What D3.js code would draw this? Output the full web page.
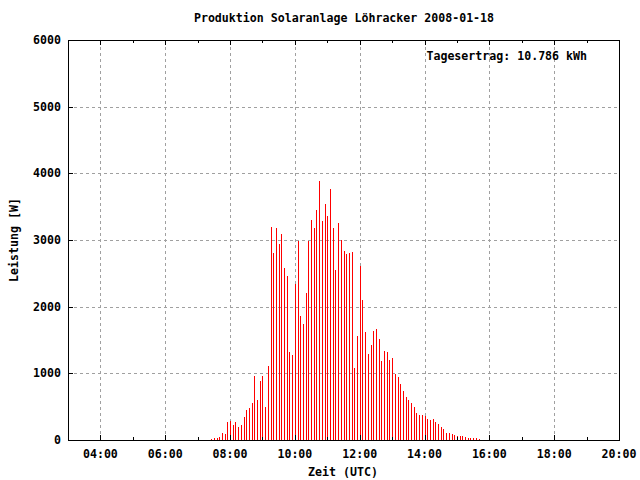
<!DOCTYPE html>
<html>
<head>
<meta charset="utf-8">
<script src="https://cdn.jsdelivr.net/npm/d3@7/dist/d3.min.js"></script>
<style>
  html, body { margin: 0; padding: 0; background: #fff; }
  svg { display: block; }
  text { font-family: "DejaVu Sans Mono", "Liberation Mono", monospace; font-weight: bold; font-size: 11.6px; fill: #000; }
</style>
</head>
<body>
<svg id="chart" width="640" height="480"></svg>
<script>
// ---- data ----
const title = "Produktion Solaranlage Löhracker 2008-01-18";
const xLabel = "Zeit (UTC)";
const yLabel = "Leistung [W]";
const noteLabel = "Tagesertrag: 10.786 kWh";

const times = [
  "07:25","07:30","07:35","07:40","07:45","07:50","07:55","08:00","08:05","08:10",
  "08:15","08:20","08:25","08:30","08:35","08:40","08:45","08:50","08:55","09:00",
  "09:05","09:10","09:15","09:20","09:25","09:30","09:35","09:40","09:45","09:50",
  "09:55","10:00","10:05","10:10","10:15","10:20","10:25","10:30","10:35","10:40",
  "10:45","10:50","10:55","11:00","11:05","11:10","11:15","11:20","11:25","11:30",
  "11:35","11:40","11:45","11:50","11:55","12:00","12:05","12:10","12:15","12:20",
  "12:25","12:30","12:35","12:40","12:45","12:50","12:55","13:00","13:05","13:10",
  "13:15","13:20","13:25","13:30","13:35","13:40","13:45","13:50","13:55","14:00",
  "14:05","14:10","14:15","14:20","14:25","14:30","14:35","14:40","14:45","14:50",
  "14:55","15:00","15:05","15:10","15:15","15:20","15:25","15:30","15:35","15:40"
];
const power = [
  15, 30, 30, 45, 105, 90, 270, 285, 225, 270,
  195, 225, 345, 450, 480, 555, 960, 600, 885, 960,
  495, 1110, 3195, 2805, 3180, 2940, 3090, 2580, 2460, 1320,
  1275, 2340, 2985, 1860, 1740, 2205, 2985, 3300, 3180, 3450,
  3885, 3285, 3540, 3360, 3765, 3180, 2550, 3255, 3000, 2835,
  2790, 2805, 2820, 1080, 1560, 2610, 2100, 1620, 1290, 1425,
  1635, 1665, 1515, 1185, 1335, 1320, 1200, 1230, 990, 945,
  840, 735, 645, 600, 555, 495, 405, 375, 375, 360,
  315, 300, 315, 270, 240, 195, 165, 105, 105, 90,
  75, 60, 60, 60, 45, 30, 30, 30, 30, 15
];
const xMajorTicks = ["04:00","06:00","08:00","10:00","12:00","14:00","16:00","18:00","20:00"];
const xMinorTicks = ["05:00","07:00","09:00","11:00","13:00","15:00","17:00","19:00"];
const yTicks = [0, 1000, 2000, 3000, 4000, 5000, 6000];
const xDomain = ["03:00", "20:00"];
const yDomain = [0, 6000];

// ---- drawing ----
const toH = s => { const [h, m] = s.split(":").map(Number); return h + m / 60; };
const L = 68, R = 619, T = 40, B = 440;
const svg = d3.select("#chart");
const x = d3.scaleLinear().domain(xDomain.map(toH)).range([L, R]);
const y = d3.scaleLinear().domain(yDomain).range([B, T]);
const px = v => Math.round(v) + 0.5;

const grid = svg.append("g").attr("stroke", "#a0a0a0").attr("stroke-dasharray", "3,3")
  .attr("shape-rendering", "crispEdges");
xMajorTicks.filter(t => toH(t) < toH(xDomain[1])).forEach(t => {
  grid.append("line").attr("x1", px(x(toH(t)))).attr("x2", px(x(toH(t))))
    .attr("y1", B).attr("y2", T);
});
yTicks.filter(v => v > yDomain[0] && v < yDomain[1]).forEach(v => {
  grid.append("line").attr("x1", L).attr("x2", R).attr("y1", px(y(v))).attr("y2", px(y(v)));
});

// bars (impulses)
svg.append("g").selectAll("line").data(power).join("line")
  .attr("x1", (d, i) => px(x(toH(times[i]))))
  .attr("x2", (d, i) => px(x(toH(times[i]))))
  .attr("y1", y(0))
  .attr("y2", d => Math.round(y(d)))
  .attr("stroke", "#ff0000").attr("stroke-width", 1)
  .attr("shape-rendering", "crispEdges");

// border
svg.append("rect").attr("x", L + 0.5).attr("y", T + 0.5)
  .attr("width", R - L).attr("height", B - T)
  .attr("fill", "none").attr("stroke", "#000").attr("shape-rendering", "crispEdges");

// x ticks bottom & top
const ticks = svg.append("g").attr("stroke", "#000").attr("shape-rendering", "crispEdges");
xMajorTicks.forEach(t => {
  const xx = px(x(toH(t)));
  ticks.append("line").attr("x1", xx).attr("x2", xx).attr("y1", B).attr("y2", B - 5);
  ticks.append("line").attr("x1", xx).attr("x2", xx).attr("y1", T).attr("y2", T + 5);
});
xMinorTicks.forEach(t => {
  const xx = px(x(toH(t)));
  ticks.append("line").attr("x1", xx).attr("x2", xx).attr("y1", B).attr("y2", B - 3);
  ticks.append("line").attr("x1", xx).attr("x2", xx).attr("y1", T).attr("y2", T + 3);
});
yTicks.forEach(v => {
  const yy = px(y(v));
  ticks.append("line").attr("x1", L).attr("x2", L + 5).attr("y1", yy).attr("y2", yy);
});

// tick labels
svg.append("g").selectAll("text").data(xMajorTicks).join("text")
  .attr("x", d => x(toH(d))).attr("y", 458).attr("text-anchor", "middle").text(d => d);
svg.append("g").selectAll("text").data(yTicks).join("text")
  .attr("x", 61).attr("y", d => y(d) + 4).attr("text-anchor", "end").text(d => d);

// titles
svg.append("text").attr("x", 344).attr("y", 22).attr("text-anchor", "middle").text(title);
svg.append("text").attr("x", 343).attr("y", 476).attr("text-anchor", "middle").text(xLabel);
svg.append("text").attr("transform", "translate(18,240) rotate(-90)")
  .attr("text-anchor", "middle").text(yLabel);
svg.append("text").attr("x", 587).attr("y", 60).attr("text-anchor", "end").text(noteLabel);
</script>
</body>
</html>
